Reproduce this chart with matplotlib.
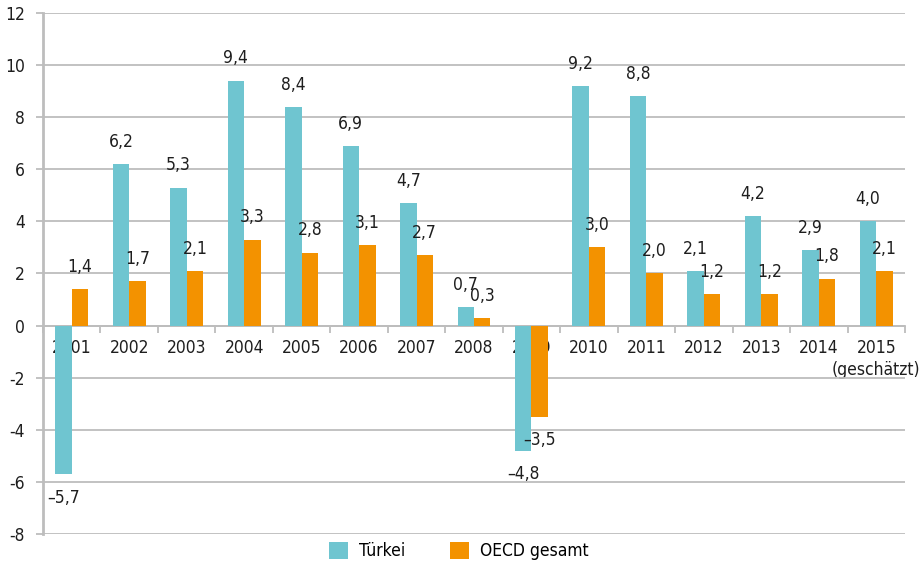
import matplotlib.pyplot as plt
import numpy as np

# Wirtschaftswachstum Türkei vs. OECD (in %)
years = ["2001", "2002", "2003", "2004", "2005", "2006", "2007", "2008",
         "2009", "2010", "2011", "2012", "2013", "2014", "2015\n(geschätzt)"]
tuerkei = [-5.7, 6.2, 5.3, 9.4, 8.4, 6.9, 4.7, 0.7, -4.8, 9.2, 8.8, 2.1, 4.2, 2.9, 4.0]
oecd = [1.4, 1.7, 2.1, 3.3, 2.8, 3.1, 2.7, 0.3, -3.5, 3.0, 2.0, 1.2, 1.2, 1.8, 2.1]
yticks = [-8, -6, -4, -2, 0, 2, 4, 6, 8, 10, 12]

cyan = "#6FC5D0"
orange = "#F39200"
grey = "#BDBDBD"

plt.rcParams["font.family"] = ["Liberation Sans Narrow", "DejaVu Sans"]
plt.rcParams["font.stretch"] = "condensed"

fig = plt.figure(figsize=(9.23, 5.69), dpi=100)
ax = fig.add_axes([0.0466, 0.0615, 0.9339, 0.9157])

x = np.arange(len(years))
w = 0.287
b1 = ax.bar(x - w / 2, tuerkei, w, color=cyan, label="Türkei", zorder=3)
b2 = ax.bar(x + w / 2, oecd, w, color=orange, label="OECD gesamt", zorder=3)


def fmt(v):
    s = f"{abs(v):.1f}".replace(".", ",")
    return ("\u2013" + s) if v < 0 else s


# value labels above / below the bars
for bars, vals in [(b1, tuerkei), (b2, oecd)]:
    for bar, v in zip(bars, vals):
        cx = bar.get_x() + bar.get_width() / 2
        off = 16 if v >= 0 else -17
        ax.annotate(fmt(v), (cx, v), xytext=(0, off), textcoords="offset points",
                    ha="center", va="center", fontsize=12.5, color="#1e1e1e")

ax.set_xlim(-0.5, len(years) - 0.5)
ax.set_ylim(-8, 12)
ax.set_yticks(yticks)
ax.set_yticklabels([str(t) for t in yticks])
ax.yaxis.grid(True, color=grey, linewidth=1.3, zorder=0)
ax.set_axisbelow(True)

# x axis sits on zero
ax.spines["bottom"].set_position(("data", 0))
ax.spines["bottom"].set_color(grey)
ax.spines["bottom"].set_linewidth(1.3)
ax.spines["left"].set_color(grey)
ax.spines["left"].set_linewidth(2)
ax.spines["top"].set_visible(False)
ax.spines["right"].set_visible(False)

ax.set_xticks(x)
ax.set_xticklabels(years, linespacing=1.3)
ax.set_xticks(np.arange(len(years) + 1) - 0.5, minor=True)
ax.tick_params(axis="x", which="major", length=0, pad=9.5, labelsize=12.5, colors="#1e1e1e")
ax.tick_params(axis="x", which="minor", length=5, width=1.3, color=grey, direction="out")
ax.tick_params(axis="y", length=5, width=1.3, color=grey, pad=8, labelsize=12.5,
               labelcolor="#1e1e1e")

fig.legend(loc="lower center", ncol=2, frameon=False, bbox_to_anchor=(0.497, -0.012),
           fontsize=12.5, handlelength=1.1, handleheight=1.1, columnspacing=2.6,
           handletextpad=0.6)

plt.savefig("out.png", dpi=100)
